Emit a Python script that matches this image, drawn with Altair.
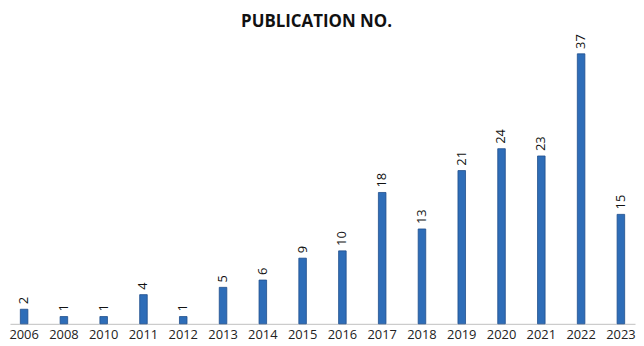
import altair as alt
import pandas as pd

years = ["2006", "2008", "2010", "2011", "2012", "2013", "2014", "2015", "2016",
         "2017", "2018", "2019", "2020", "2021", "2022", "2023"]
counts = [2, 1, 1, 4, 1, 5, 6, 9, 10, 18, 13, 21, 24, 23, 37, 15]

df = pd.DataFrame({"year": years, "count": counts})

x = alt.X("year:N", sort=years, title=None,
          scale=alt.Scale(paddingInner=0.81, paddingOuter=0.26),
          axis=alt.Axis(labelAngle=0, labelFontSize=13, labelFont="Open Sans",
                        labelColor="#222222", ticks=False, domainColor="#BFBFBF",
                        domainWidth=1, labelPadding=5))
y = alt.Y("count:Q", scale=alt.Scale(domain=[0, 39.7], nice=False), axis=None)

bars = alt.Chart(df).mark_bar(color="#2E6DB8", stroke="#1F4E8C", strokeWidth=0.8).encode(x=x, y=y)
labels = alt.Chart(df).mark_text(angle=270, align="left", baseline="middle", dx=5,
                                 fontSize=13, font="Open Sans", color="#111111").encode(
    x=x, y=y, text="count:Q")

chart = (bars + labels).properties(
    width=630, height=292,
    title=alt.TitleParams("PUBLICATION NO.", fontSize=17, font="Open Sans",
                          fontWeight="bold", color="#111111", offset=3, dx=-6),
    padding={"left": 0, "right": 0, "top": 3, "bottom": 3},
).configure_view(stroke=None)

chart.save("out.html", embed_options={"renderer": "svg", "actions": False})
